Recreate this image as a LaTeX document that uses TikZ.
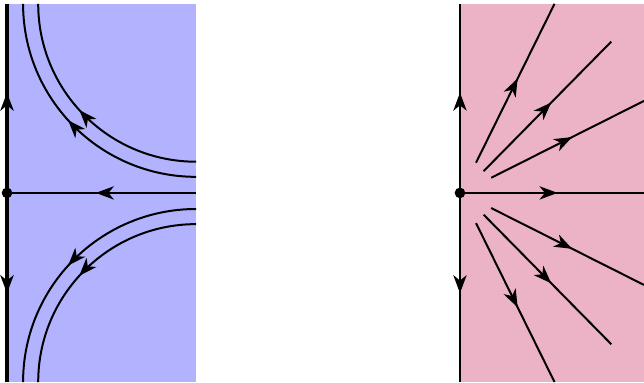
\documentclass[tikz,border=0pt]{standalone}
\usepackage{tikz}
\usetikzlibrary{arrows.meta,decorations.markings,calc}
\tikzset{
  flow/.style = {postaction = {decorate}, decoration = {markings,
    mark = at position 0.53 with {\arrow{Stealth[length = 5.4pt, width = 4pt, inset = 1.6pt]}}}},
  axis/.style = {line width = 1.2pt},
}

\begin{document}
\begin{tikzpicture}[x = 1cm, y = 1cm, line width = .6pt]
\useasboundingbox (-0.074,-2) rectangle (6.736,2.04);
% Saddle
\coordinate (O1) at (0,0);
\fill[blue!30] (0,-2) rectangle (2,2);
\draw[flow] (2,0) -- (O1);
\draw[flow, axis] (O1) -- (0,2);
\draw[flow, axis] (O1) -- (0,-2);
\draw[flow] (2,.33) arc[start angle = 270, end angle = 180, radius = 1.67];
\draw[flow] (2,.17) arc[start angle = 270, end angle = 180, radius = 1.83];
\draw[flow] (2,-.17) arc[start angle = 90, end angle = 180, radius = 1.83];
\draw[flow] (2,-.33) arc[start angle = 90, end angle = 180, radius = 1.67];
\fill (O1) circle (1.6pt);
% Source
\coordinate (O2) at (4.79,0);
\fill[purple!30] (4.79,-2) rectangle (6.736,2);
\begin{scope}[shift = {(O2)}]
\draw[flow] (0,0) -- (1.946,0);
\draw[flow] (0,0) -- (0,2);
\draw[flow] (0,0) -- (0,-2);
\draw[flow] (.17,.32) -- (1,2);
\draw[flow] (.25,.23) -- (1.6,1.6);
\draw[flow] (.33,.16) -- (1.946,.973);
\draw[flow] (.17,-.32) -- (1,-2);
\draw[flow] (.25,-.23) -- (1.6,-1.6);
\draw[flow] (.33,-.16) -- (1.946,-.973);
\end{scope}
\fill (O2) circle (1.6pt);
\end{tikzpicture}
\end{document}
